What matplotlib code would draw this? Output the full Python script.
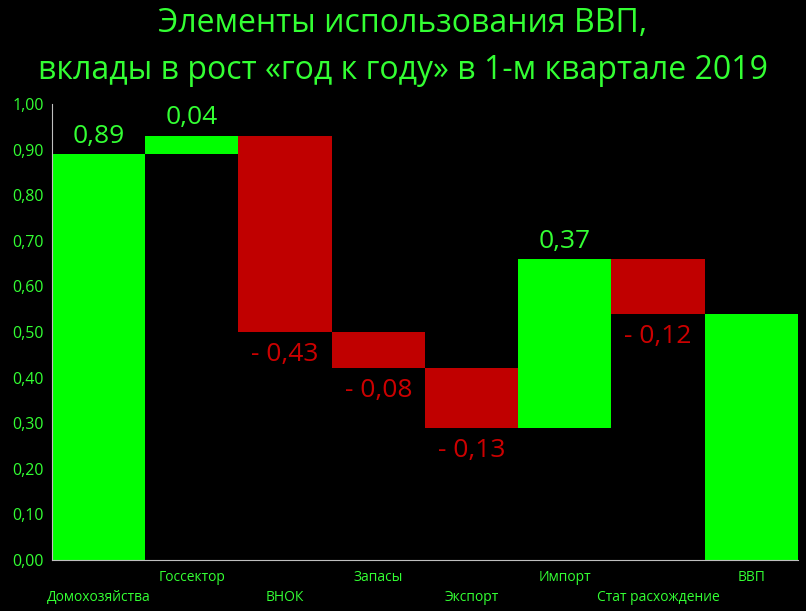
import matplotlib
matplotlib.use("Agg")
import matplotlib.pyplot as plt

plt.rcParams["font.family"] = ["Open Sans", "DejaVu Sans"]

categories = ["Домохозяйства", "Госсектор", "ВНОК", "Запасы", "Экспорт",
              "Импорт", "Стат расхождение", "ВВП"]
contributions = [0.89, 0.04, -0.43, -0.08, -0.13, 0.37, -0.12]
value_labels = ["0,89", "0,04", "- 0,43", "- 0,08", "- 0,13", "0,37", "- 0,12"]
y_ticks = [0.0, 0.1, 0.2, 0.3, 0.4, 0.5, 0.6, 0.7, 0.8, 0.9, 1.0]

GREEN = "#00ff00"
RED = "#c00000"
TEXT_GREEN = "#33ff33"

# waterfall bottoms / heights
bottoms = []
heights = []
running = 0.0
for v in contributions:
    if v >= 0:
        bottoms.append(running)
    else:
        bottoms.append(running + v)
    heights.append(abs(v))
    running += v
total = round(running, 2)
bottoms.append(0.0)
heights.append(total)
colors = [GREEN if v >= 0 else RED for v in contributions] + [GREEN]

fig = plt.figure(figsize=(8.06, 6.11), dpi=100, facecolor="black")
ax = fig.add_axes([0.0645, 0.0835, 0.9255, 0.7463], facecolor="black")

x = list(range(len(categories)))
ax.bar(x, heights, bottom=bottoms, width=1.0, color=colors, linewidth=0)

for i, v in enumerate(contributions):
    if v >= 0:
        ax.text(i, bottoms[i] + heights[i] + 0.012, value_labels[i], ha="center",
                va="bottom", color=TEXT_GREEN, fontsize=19)
    else:
        ax.text(i, bottoms[i] - 0.022, value_labels[i], ha="center",
                va="top", color="#cc0000", fontsize=19)

ax.set_xlim(-0.5, len(categories) - 0.5)
ax.set_ylim(0, 1.0)
ax.set_yticks(y_ticks)
ax.set_yticklabels([f"{t:.2f}".replace(".", ",") for t in y_ticks],
                   color=TEXT_GREEN, fontsize=11.5)
ax.tick_params(axis="y", length=0, pad=6)
ax.set_xticks([])

for i, name in enumerate(categories):
    y_off = -0.038 if i % 2 == 1 else -0.082
    ax.text(i, y_off, name, ha="center", va="center", color=TEXT_GREEN,
            fontsize=10, family=["Liberation Sans Narrow", "Open Sans", "DejaVu Sans"],
            transform=ax.get_xaxis_transform())

for side in ("top", "right"):
    ax.spines[side].set_visible(False)
ax.spines["left"].set_color("#bfbfbf")
ax.spines["bottom"].set_color("#bfbfbf")

fig.text(0.5, 0.962, "Элементы использования ВВП,", ha="center", va="center",
         color=TEXT_GREEN, fontsize=23)
fig.text(0.5, 0.884, "вклады в рост «год к году» в 1-м квартале 2019", ha="center",
         va="center", color=TEXT_GREEN, fontsize=23)

fig.savefig("out.png", dpi=100, facecolor="black")
